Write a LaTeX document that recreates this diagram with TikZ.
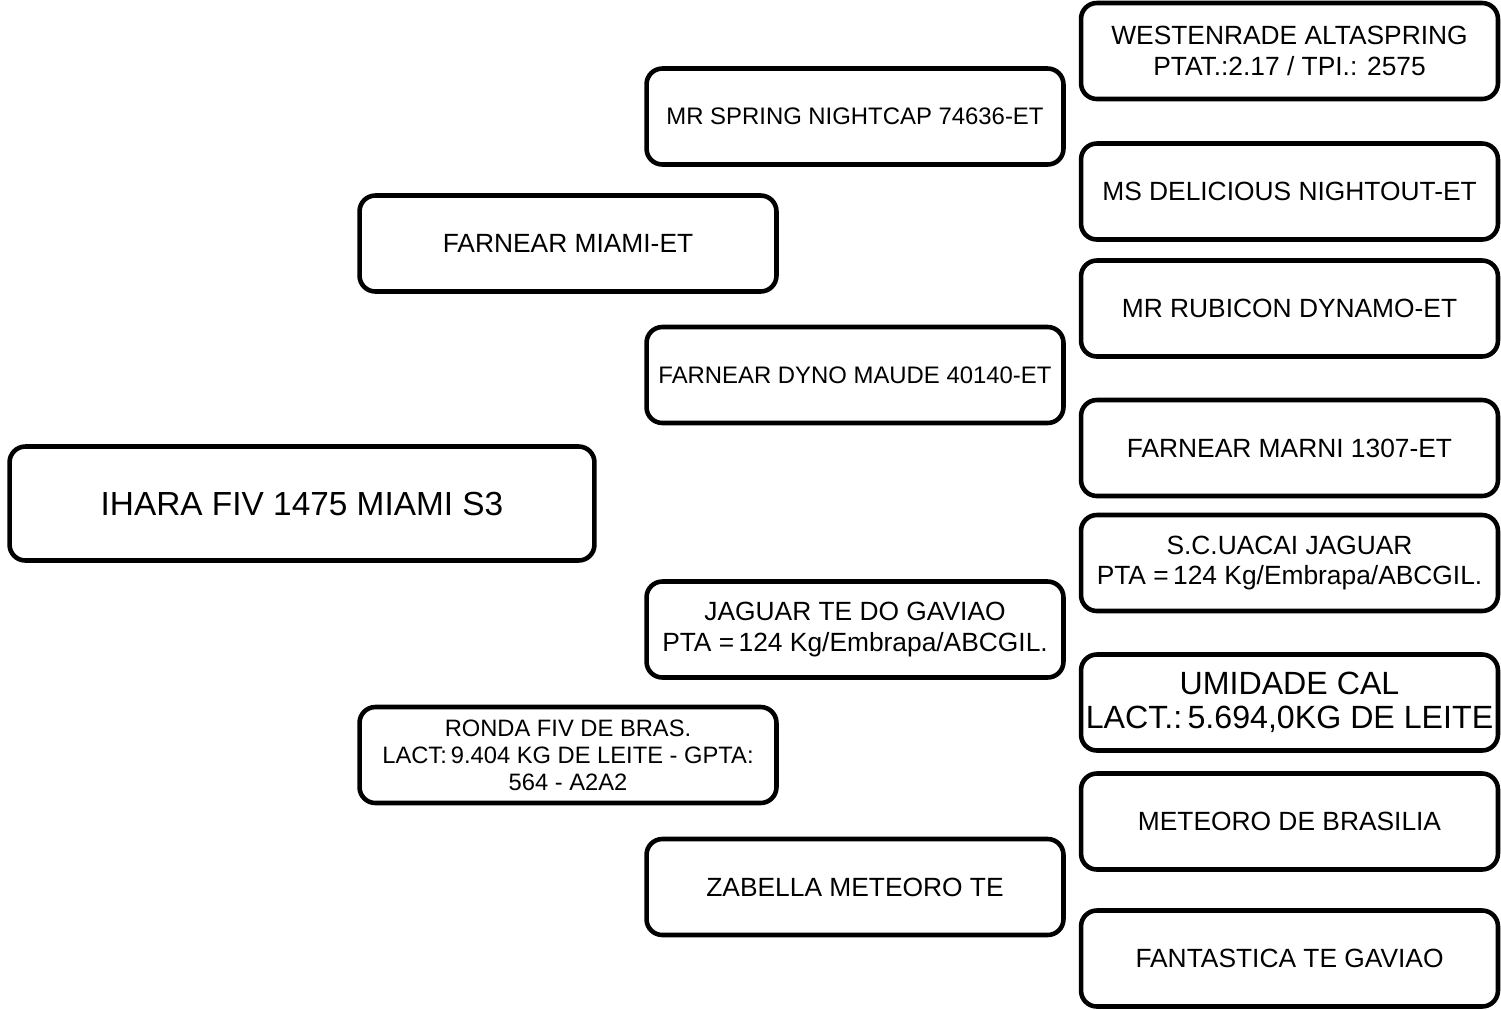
\documentclass[tikz,border=0pt]{standalone}
\usepackage{fontspec}
\setmainfont{Liberation Sans}
\usepackage{tikz}
\usetikzlibrary{positioning}

\begin{document}
\begin{tikzpicture}[
    x=0.02cm, y=-0.02cm,
    animal/.style={draw=black, line width=2.6pt, rounded corners=9pt, align=center, fill=white,
        minimum width=8.34cm, minimum height=1.92cm, inner sep=1pt, font=\fontsize{15}{17.6}\selectfont},
    narrow/.style={font=\fontsize{13.6}{16}\selectfont},
    root/.style={animal, minimum width=11.7cm, minimum height=2.28cm, font=\fontsize{19}{22}\selectfont}
]
\useasboundingbox (0,0) rectangle (1501,1009);

% animal
\node[root] (animal) at (302,503.5) {IHARA FIV 1475 MIAMI S3};

% parents
\node[animal] (sire) at (568,243.5) {FARNEAR MIAMI-ET};
\node[animal, font=\fontsize{13.5}{15.3}\selectfont] (dam) at (568,755) {RONDA FIV DE BRAS.\\LACT:\,9.404 KG DE LEITE - GPTA:\\564 - A2A2};

% grandparents
\node[animal, narrow] (ss) at (855,116.5) {MR SPRING NIGHTCAP 74636-ET};
\node[animal, narrow] (sd) at (855,375) {FARNEAR DYNO MAUDE 40140-ET};
\node[animal] (ds) at (855,629.5) {JAGUAR TE DO GAVIAO\\PTA =\,124 Kg/Embrapa/ABCGIL.};
\node[animal] (dd) at (855,887) {ZABELLA METEORO TE};

% great-grandparents
\node[animal] (sss) at (1289.5,51) {WESTENRADE ALTASPRING\\PTAT.:2.17 / TPI.: 2575};
\node[animal] (ssd) at (1289.5,191.5) {MS DELICIOUS NIGHTOUT-ET};
\node[animal] (sds) at (1289.5,308.5) {MR RUBICON DYNAMO-ET};
\node[animal] (sdd) at (1289.5,448) {FARNEAR MARNI 1307-ET};
\node[animal] (dss) at (1289.5,563) {S.C.UACAI JAGUAR\\PTA =\,124 Kg/Embrapa/ABCGIL.};
\node[animal, font=\fontsize{18.3}{19.2}\selectfont] (dsd) at (1289.5,702.5) {UMIDADE CAL\\LACT.:\,5.694,0KG DE LEITE};
\node[animal] (dds) at (1289.5,821.5) {METEORO DE BRASILIA};
\node[animal] (ddd) at (1289.5,958.5) {FANTASTICA TE GAVIAO};
\end{tikzpicture}
\end{document}
